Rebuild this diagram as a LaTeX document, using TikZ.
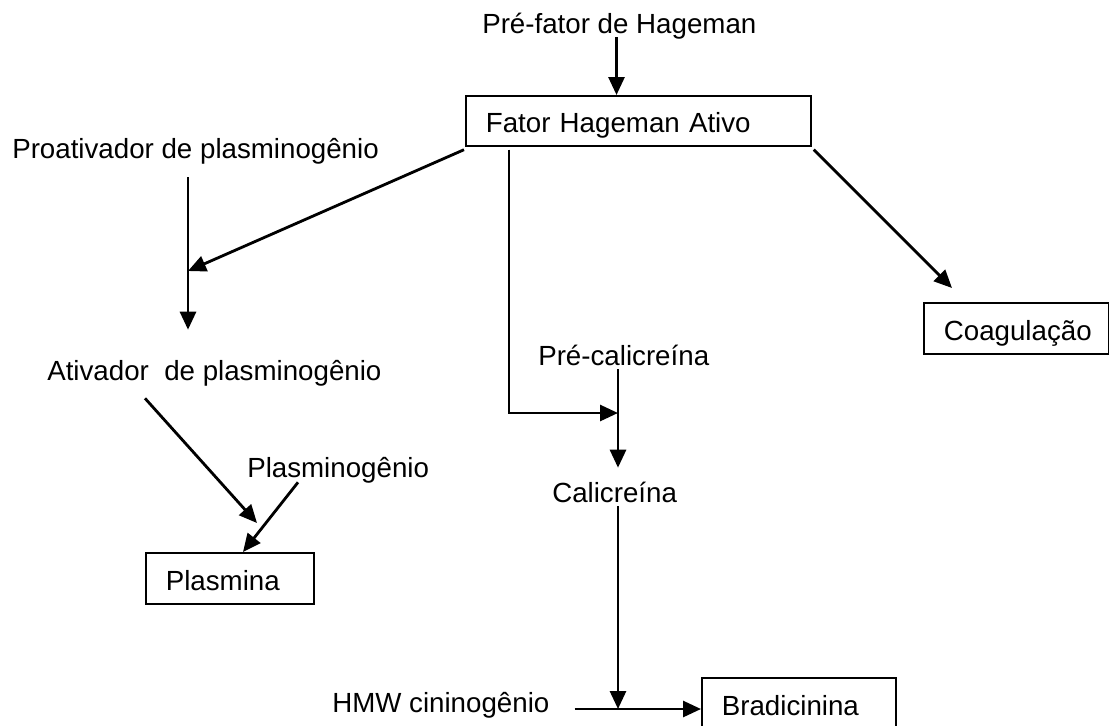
\documentclass[tikz,border=0pt]{standalone}
\usepackage{fontspec}
\setmainfont{Liberation Sans}
\usetikzlibrary{arrows.meta}

\begin{document}
\begin{tikzpicture}[x=0.025cm, y=-0.025cm,
		every node/.style={font=\fontsize{19.7}{24}\selectfont},
		texto/.style={inner sep=0pt, anchor=west, text height=7.5pt, text depth=2.5pt},
		caixa/.style={draw, line width=1.2pt, anchor=north west, inner xsep=0.5cm, inner ysep=0pt,
			align=left, text width=#1, text height=17pt, text depth=0pt},
		seta/.style={line width=2pt, -{Triangle[length=0.45cm, width=0.4cm]}}]
	\useasboundingbox (0,0) rectangle (1109,725);

	\node[texto] (pre) at (482,30) {Pré-fator de Hageman};
	\node[caixa=7.625cm, minimum width=8.625cm, minimum height=1.25cm] (fha) at (465,95) {Fator Hageman Ativo};
	\node[texto] (proat) at (12,155) {Proativador de plasminogênio};
	\node[texto] (ativ) at (47,377) {Ativador\ \ de plasminogênio};
	\node[texto] (plg) at (247,474) {Plasminogênio};
	\node[caixa=3.2cm, minimum width=4.2cm, minimum height=1.275cm] (plas) at (145,552) {Plasmina};
	\node[texto] (precal) at (538,362) {Pré-calicreína};
	\node[texto] (cal) at (552,499) {Calicreína};
	\node[texto] (hmw) at (332,709) {HMW cininogênio};
	\node[caixa=3.85cm, minimum width=4.85cm, minimum height=1.275cm] (bradi) at (701,677) {Bradicinina};
	\node[caixa=3.625cm, minimum width=4.625cm, minimum height=1.275cm] (coag) at (923,302) {Coagulação};

	\coordinate (jpa) at (188,271);
	\coordinate (jk) at (618,413);

	\draw[seta] ([xshift=-2]pre.south) -- ([xshift=-2]pre.south |- fha.north);
	\draw[seta] ([shift={(-1,3)}]fha.south west) -- (jpa);
	\draw[seta, shorten <=0.375cm, shorten >=1cm] (proat.south -| jpa) -- (ativ.north -| jpa);
	\draw[seta] ([shift={(98,14)}]ativ.south west) -- ([shift={(112,-29)}]plas.north west);
	\draw[seta] ([shift={(51,1)}]plg.south west) -- ([shift={(98,0)}]plas.north west);
	\draw[seta] ([shift={(2,3)}]fha.south east) -- ([shift={(29,-14)}]coag.north west);
	\draw[seta] ([shift={(44,3)}]fha.south west) |- (jk);
	\draw[seta, shorten >=0.6cm] (precal.south -| jk) -- (cal.north -| jk);
	\draw[seta] (cal.south -| jk) -- (jk |- hmw.east);
	\draw[seta] ([xshift=0.625cm]hmw.east) -- (bradi.west |- hmw.east);

\end{tikzpicture}
\end{document}
